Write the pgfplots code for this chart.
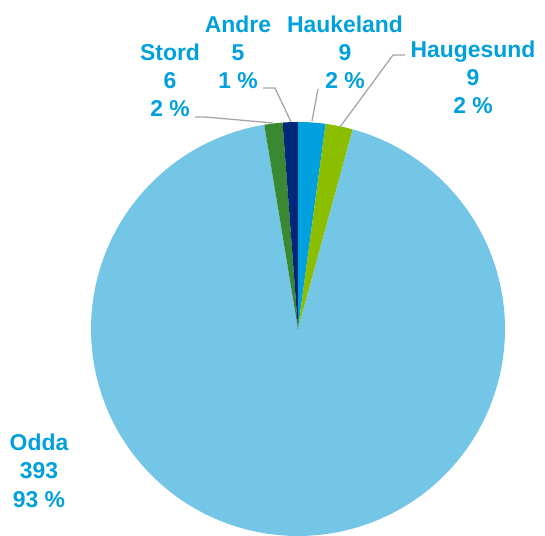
\documentclass[border=0pt]{standalone}
\usepackage{pgfplots}
\pgfplotsset{compat=1.18}
\usepackage{fontspec}
\setmainfont{Liberation Sans}
\definecolor{cHauk}{RGB}{0,161,222}
\definecolor{cHaug}{RGB}{140,190,0}
\definecolor{cOdda}{RGB}{116,198,230}
\definecolor{cStord}{RGB}{58,136,50}
\definecolor{cAndre}{RGB}{0,40,120}
\definecolor{cLab}{RGB}{0,160,220}
\definecolor{cLine}{RGB}{166,166,166}
% data
\def\vHauk{9}\def\vHaug{9}\def\vOdda{393}\def\vStord{6}\def\vAndre{5}
\pgfmathsetmacro{\total}{\vHauk+\vHaug+\vOdda+\vStord+\vAndre}
\pgfmathsetmacro{\aA}{90}
\pgfmathsetmacro{\aB}{\aA-\vHauk/\total*360}
\pgfmathsetmacro{\aC}{\aB-\vHaug/\total*360}
\pgfmathsetmacro{\aD}{\aC-\vOdda/\total*360}
\pgfmathsetmacro{\aE}{\aD-\vStord/\total*360}
\pgfmathsetmacro{\aF}{\aE-\vAndre/\total*360}
\def\cx{298}\def\cy{207}\def\rr{207}
\tikzset{labf/.style={anchor=base,text=cLab,inner sep=0pt,font=\fontsize{23}{28}\selectfont\bfseries}}
\newcommand{\lab}[5]{%
  \node[labf] at (#1,{536-#2-8}) {#3};
  \node[labf] at (#1,{536-#2-8-28}) {#4};
  \node[labf] at (#1,{536-#2-8-56}) {#5};}
\begin{document}
\begin{tikzpicture}
\begin{axis}[
  width=545bp, height=536bp, scale only axis,
  xmin=0, xmax=545, ymin=0, ymax=536,
  hide axis, clip=false,
]
\path (rel axis cs:0,0) rectangle (rel axis cs:1,1);
\addplot[fill=cHauk, draw=none, domain=\aB:\aA, samples=20, variable=\t] ({\cx+\rr*cos(t)},{\cy+\rr*sin(t)}) -- (\cx,\cy) -- cycle;
\addplot[fill=cHaug, draw=none, domain=\aC:\aB, samples=20, variable=\t] ({\cx+\rr*cos(t)},{\cy+\rr*sin(t)}) -- (\cx,\cy) -- cycle;
\addplot[fill=cOdda, draw=none, domain=\aD:\aC, samples=200, variable=\t] ({\cx+\rr*cos(t)},{\cy+\rr*sin(t)}) -- (\cx,\cy) -- cycle;
\addplot[fill=cStord, draw=none, domain=\aE:\aD, samples=20, variable=\t] ({\cx+\rr*cos(t)},{\cy+\rr*sin(t)}) -- (\cx,\cy) -- cycle;
\addplot[fill=cAndre, draw=none, domain=\aF:\aE, samples=20, variable=\t] ({\cx+\rr*cos(t)},{\cy+\rr*sin(t)}) -- (\cx,\cy) -- cycle;
% leader lines
\draw[cLine, line width=1.3bp] (195,{536-117}) -- (205,{536-117}) -- (273,{536-123});
\draw[cLine, line width=1.3bp] (263,{536-88}) -- (275,{536-88}) -- (291,{536-122});
\draw[cLine, line width=1.3bp] (318,{536-89}) -- (312,{536-121});
\draw[cLine, line width=1.3bp] (405,{536-55}) -- (393,{536-55}) -- (340,{536-127});
% labels
\lab{170}{53}{Stord}{6}{2 \%}
\lab{238}{25}{Andre}{5}{1 \%}
\lab{345}{25}{Haukeland}{9}{2 \%}
\lab{473}{50}{Haugesund}{9}{2 \%}
\lab{39}{443}{Odda}{393}{93 \%}
\end{axis}
\end{tikzpicture}
\end{document}
